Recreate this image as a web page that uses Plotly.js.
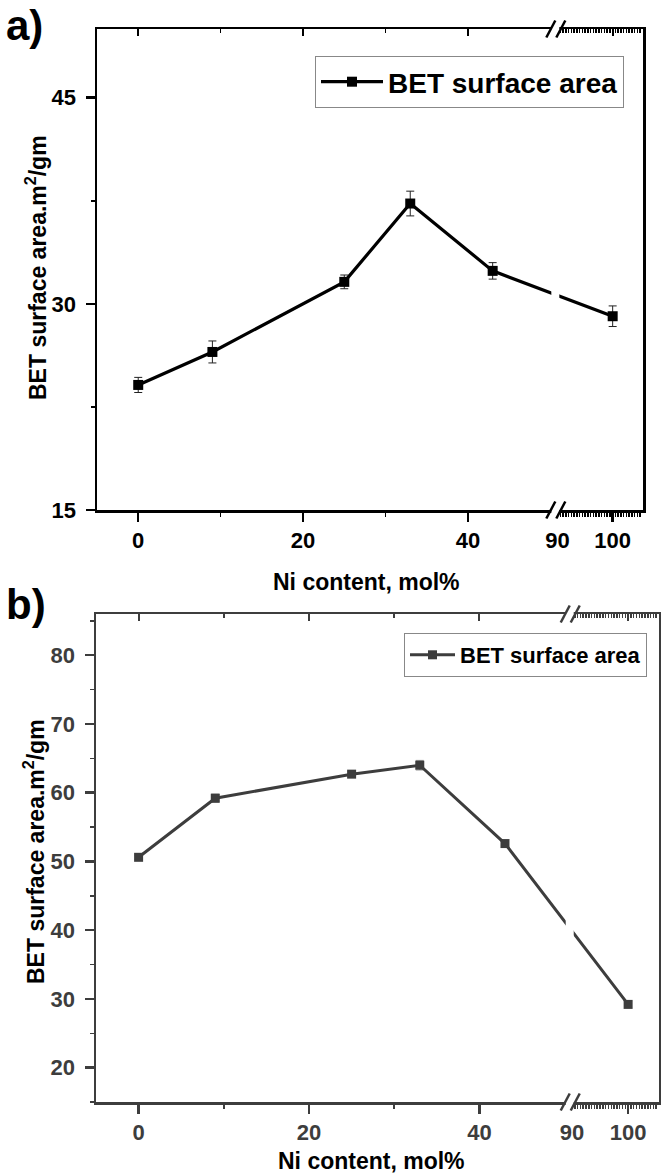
<!DOCTYPE html>
<html>
<head>
<meta charset="utf-8">
<script src="https://cdn.plot.ly/plotly-3.0.1.min.js"></script>
<style>
  html, body { margin: 0; padding: 0; background: #fff; }
  #chart { width: 661px; height: 1174px; }
</style>
</head>
<body>
<div id="chart"></div>
<script>
// ---------- data ----------
const niContent = [0, 9, 25, 33, 43, 100];          // Ni content, mol%
const betA = [24.1, 26.5, 31.6, 37.3, 32.4, 29.1];   // panel a, m2/g
const errA = [0.55, 0.8, 0.5, 0.9, 0.6, 0.75];
const betB = [50.6, 59.2, 62.7, 64.0, 52.6, 29.2];   // panel b, m2/g
const errB = [0.3, 0.6, 0.4, 0.7, 0.3, 0.4];
const majorTicks = [0, 20, 40, 90, 100];
const majorLabels = ['0', '20', '40', '90', '100'];
const seriesName = 'BET surface area';
const xTitle = 'Ni content, mol%';
const yTitle = 'BET surface area.m<sup>2</sup>/gm';

// ---------- geometry ----------
const W = 661, H = 1174;
const FONT = 'Liberation Sans, Arial, sans-serif';
const brkLo = 50.6, brkHi = 89.6, xMin = -5, xMax = 105.5;
function mapper(k) { return v => (v <= brkLo ? v : brkLo + (v - brkHi) * k); }
const mapA = mapper(0.669), mapB = mapper(0.659);

function minorList() {
  const m = [10, 30];
  for (let v = 90.5; v <= 105.01; v += 0.5) { if (Math.abs(v - 100) > 0.01) m.push(+v.toFixed(1)); }
  return m;
}
const minorTicks = minorList();

function px(a, b) { return [a / W, b / W]; }
function py(top, bottom) { return [1 - bottom / H, 1 - top / H]; }

function xBottom(dom, map, anchor, col, fcol) {
  return {
    domain: dom, anchor: anchor, range: [xMin, map(xMax)], autorange: false,
    tickmode: 'array', tickvals: majorTicks.map(map), ticktext: majorLabels,
    ticks: 'outside', ticklen: 9, tickwidth: 2.5, tickcolor: col, ticklabelstandoff: 0,
    minor: { tickmode: 'array', tickvals: minorTicks.map(map), ticks: 'outside', ticklen: 4, tickwidth: 1.5, tickcolor: col },
    showline: true, linewidth: 2.5, linecolor: col, mirror: false,
    showgrid: false, zeroline: false, automargin: false,
    tickfont: { family: FONT, size: 22, color: fcol, weight: 'bold' }
  };
}
function xTop(dom, map, overl, anchor, col) {
  return {
    domain: dom, overlaying: overl, anchor: anchor, side: 'top',
    range: [xMin, map(xMax)], autorange: false,
    tickmode: 'array', tickvals: majorTicks.map(map), showticklabels: false,
    ticks: 'inside', ticklen: 7, tickwidth: 2, tickcolor: col,
    minor: { tickmode: 'array', tickvals: minorTicks.map(map), ticks: 'inside', ticklen: 4, tickwidth: 1.5, tickcolor: col },
    showline: true, linewidth: 2.5, linecolor: col,
    showgrid: false, zeroline: false, automargin: false
  };
}
function yLeft(dom, anchor, range, tick0, dtick, mdtick, col, fcol) {
  return {
    domain: dom, anchor: anchor, range: range, autorange: false,
    tick0: tick0, dtick: dtick,
    ticks: 'outside', ticklen: 9, tickwidth: 2.5, tickcolor: col, ticklabelstandoff: 5,
    minor: { tick0: tick0, dtick: mdtick, ticks: 'outside', ticklen: 4, tickwidth: 1.5, tickcolor: col },
    showline: true, linewidth: 2.5, linecolor: col, mirror: true,
    showgrid: false, zeroline: false, automargin: false,
    tickfont: { family: FONT, size: 22, color: fcol, weight: 'bold' }
  };
}

function breakShapes(xref, yref, col) {
  const s = [{
    type: 'rect', xref: xref, yref: yref, xsizemode: 'pixel', xanchor: brkLo,
    x0: -4, x1: 4, y0: -0.04, y1: 1.04, fillcolor: '#fff', line: { width: 0 }, layer: 'above'
  }];
  [0, 1].forEach(ya => {
    [[-9, 0], [1, 10]].forEach(([a, b]) => {
      s.push({
        type: 'line', xref: xref, yref: yref, xsizemode: 'pixel', xanchor: brkLo,
        ysizemode: 'pixel', yanchor: ya, x0: a, x1: b, y0: -8.5, y1: 8.5,
        line: { color: col, width: 2.5 }, layer: 'above'
      });
    });
  });
  return s;
}

const colA = '#000', colB = '#3d3d3d';

const traces = [
  {
    x: niContent.map(mapA), y: betA, xaxis: 'x', yaxis: 'y', name: seriesName,
    mode: 'lines+markers', line: { color: colA, width: 3.2 },
    marker: { symbol: 'square', size: 10, color: colA },
    error_y: { type: 'data', array: errA, visible: true, thickness: 1, width: 4, color: '#222' },
    legend: 'legend'
  },
  {
    x: niContent.map(mapB), y: betB, xaxis: 'x3', yaxis: 'y2', name: seriesName,
    mode: 'lines+markers', line: { color: colB, width: 3 },
    marker: { symbol: 'square', size: 9, color: colB },
    error_y: { type: 'data', array: errB, visible: true, thickness: 1, width: 4, color: '#999' },
    legend: 'legend2'
  },
  // empty traces so that the mirrored top axes are created
  { x: [], y: [], xaxis: 'x2', yaxis: 'y', showlegend: false, hoverinfo: 'skip', mode: 'markers' },
  { x: [], y: [], xaxis: 'x4', yaxis: 'y2', showlegend: false, hoverinfo: 'skip', mode: 'markers' }
];

const domXA = px(97, 643), domYA = py(29, 510);
const domXB = px(96, 659), domYB = py(614, 1102);

const layout = {
  width: W, height: H, margin: { l: 0, r: 0, t: 0, b: 0 },
  paper_bgcolor: '#fff', plot_bgcolor: '#fff',
  font: { family: FONT, color: '#000' },
  xaxis: xBottom(domXA, mapA, 'y', colA, '#000'),
  xaxis2: xTop(domXA, mapA, 'x', 'y', colA),
  yaxis: yLeft(domYA, 'x', [15, 50], 15, 15, 7.5, colA, '#000'),
  xaxis3: xBottom(domXB, mapB, 'y2', colB, '#3d3d3d'),
  xaxis4: xTop(domXB, mapB, 'x3', 'y2', colB),
  yaxis2: yLeft(domYB, 'x3', [15, 86], 0, 10, 5, colB, '#3d3d3d'),
  showlegend: true,
  legend: {
    x: 624 / W, y: 1 - 56 / H, xanchor: 'right', yanchor: 'top',
    bgcolor: '#fff', bordercolor: '#888', borderwidth: 1, itemwidth: 62,
    font: { family: FONT, size: 28, color: '#000', weight: 'bold' }
  },
  legend2: {
    x: 647 / W, y: 1 - 633 / H, xanchor: 'right', yanchor: 'top',
    bgcolor: '#fff', bordercolor: '#888', borderwidth: 1, itemwidth: 45,
    font: { family: FONT, size: 22, color: '#000', weight: 'bold' }
  },
  shapes: [].concat(breakShapes('x', 'y domain', colA), breakShapes('x3', 'y2 domain', colB)),
  annotations: [
    { text: 'a)', x: 4 / W, y: 1 - 0 / H, xref: 'paper', yref: 'paper', xanchor: 'left', yanchor: 'top', showarrow: false,
      font: { family: FONT, size: 42, weight: 'bold', color: '#000' } },
    { text: 'b)', x: 4 / W, y: 1 - 579 / H, xref: 'paper', yref: 'paper', xanchor: 'left', yanchor: 'top', showarrow: false,
      font: { family: FONT, size: 42, weight: 'bold', color: '#000' } },
    { text: yTitle, x: 36 / W, y: 1 - 268 / H, xref: 'paper', yref: 'paper', xanchor: 'center', yanchor: 'middle',
      textangle: -90, showarrow: false, font: { family: FONT, size: 23, weight: 'bold', color: '#000' } },
    { text: xTitle, x: 366 / W, y: 1 - 582 / H, xref: 'paper', yref: 'paper', xanchor: 'center', yanchor: 'middle',
      showarrow: false, font: { family: FONT, size: 23, weight: 'bold', color: '#000' } },
    { text: yTitle, x: 34 / W, y: 1 - 852 / H, xref: 'paper', yref: 'paper', xanchor: 'center', yanchor: 'middle',
      textangle: -90, showarrow: false, font: { family: FONT, size: 23, weight: 'bold', color: '#000' } },
    { text: xTitle, x: 372 / W, y: 1 - 1161 / H, xref: 'paper', yref: 'paper', xanchor: 'center', yanchor: 'middle',
      showarrow: false, font: { family: FONT, size: 23, weight: 'bold', color: '#000' } }
  ]
};

Plotly.newPlot('chart', traces, layout, { displayModeBar: false, staticPlot: true });
</script>
</body>
</html>
